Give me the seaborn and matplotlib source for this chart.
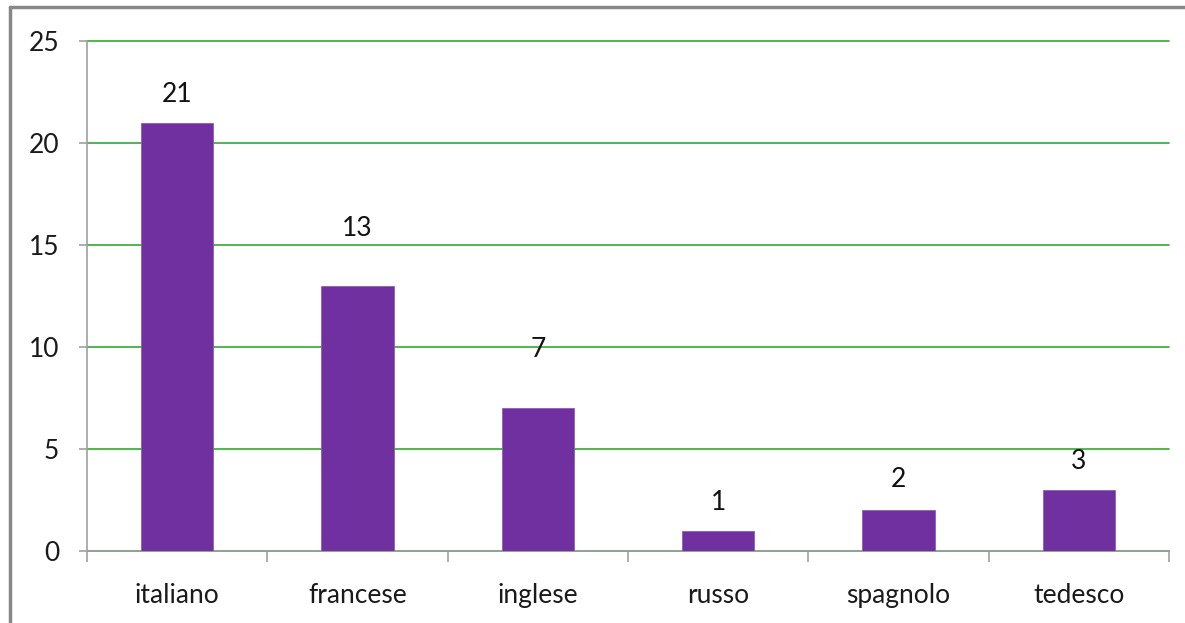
import matplotlib
matplotlib.use("Agg")
import matplotlib.pyplot as plt
import seaborn as sns
import pandas as pd
from matplotlib.lines import Line2D

categories = ["italiano", "francese", "inglese", "russo", "spagnolo", "tedesco"]
values = [21, 13, 7, 1, 2, 3]
label_offsets = [1.4, 2.8, 2.9, 1.4, 1.5, 1.4]  # value units above bar top
yticks = [0, 5, 10, 15, 20, 25]

sns.set_theme(style="white")
plt.rcParams['font.family'] = ['Lato', 'DejaVu Sans']

df = pd.DataFrame({"lingua": categories, "n": values})

fig = plt.figure(figsize=(11.85, 6.23), dpi=100)
ax = fig.add_axes([87/1185, 1-551/623, (1169-87)/1185, (551-41)/623])

sns.barplot(data=df, x="lingua", y="n", color="#7030A0", width=0.4,
            saturation=1, ax=ax, zorder=3)
for p in ax.patches:
    p.set_edgecolor("#8C5CB8")
    p.set_linewidth(0.6)

ax.set_ylim(0, 25)
ax.set_xlim(-0.5, len(categories) - 0.5)
ax.set_yticks(yticks)
ax.set_yticklabels([str(t) for t in yticks], fontsize=19, color="#1a1a1a")
ax.yaxis.grid(True, color="#33A833", linewidth=1.2, zorder=0)
for gl in ax.get_ygridlines():
    gl.set_clip_on(False)
ax.xaxis.grid(False)
ax.set_axisbelow(True)
ax.set_xlabel("")
ax.set_ylabel("")

for s in ["top", "right"]:
    ax.spines[s].set_visible(False)
for s in ["left", "bottom"]:
    ax.spines[s].set_color("#A0A0A0")
    ax.spines[s].set_linewidth(1.2)

ax.tick_params(axis="y", which="both", left=True, length=6, color="#A0A0A0",
               width=1.2, pad=14)
ax.set_xticks(range(len(categories)))
ax.set_xticklabels(categories, fontsize=19, color="#1a1a1a")
ax.tick_params(axis="x", which="major", bottom=False, pad=17)
ax.set_xticks([i - 0.5 for i in range(len(categories) + 1)], minor=True)
ax.tick_params(axis="x", which="minor", bottom=True, length=8, color="#A0A0A0",
               width=1.2)

for i, (v, off) in enumerate(zip(values, label_offsets)):
    ax.text(i, v + off, str(v), ha="center", va="center", fontsize=19,
            color="#111111")

# outer frame (left and top border)
fig.add_artist(Line2D([10/1185, 10/1185], [0, 1 - 7/623],
                      transform=fig.transFigure, color="#888888", linewidth=2.5))
fig.add_artist(Line2D([10/1185, 1], [1 - 7/623, 1 - 7/623],
                      transform=fig.transFigure, color="#888888", linewidth=2.5))

fig.savefig("out.png", dpi=100, facecolor="white")
